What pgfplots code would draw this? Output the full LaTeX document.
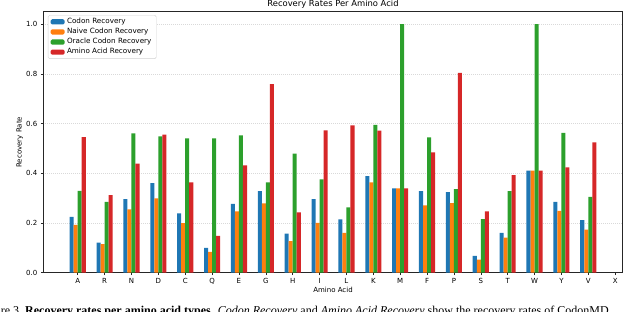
\documentclass[border=0pt]{standalone}
\usepackage{pgfplots}
\pgfplotsset{compat=1.18}
\usepackage{fontspec}
\setmainfont{DejaVu Sans}
\newfontfamily\capfont{Liberation Serif}
\definecolor{cA}{HTML}{1F77B4}
\definecolor{cB}{HTML}{FF7F0E}
\definecolor{cC}{HTML}{2CA02C}
\definecolor{cD}{HTML}{D62728}

\pgfplotstableread{
x codon naive oracle amino
0  0.225 0.192 0.329 0.545
1  0.121 0.115 0.285 0.312
2  0.296 0.255 0.561 0.439
3  0.360 0.299 0.548 0.555
4  0.239 0.199 0.540 0.363
5  0.100 0.084 0.540 0.148
6  0.277 0.247 0.552 0.432
7  0.328 0.279 0.363 0.759
8  0.157 0.127 0.479 0.243
9  0.296 0.200 0.375 0.573
10 0.215 0.160 0.263 0.593
11 0.389 0.363 0.595 0.572
12 0.339 0.339 1.000 0.339
13 0.328 0.271 0.544 0.484
14 0.324 0.280 0.336 0.804
15 0.068 0.053 0.216 0.247
16 0.160 0.141 0.328 0.393
17 0.411 0.411 1.000 0.411
18 0.285 0.249 0.563 0.424
19 0.212 0.173 0.305 0.524
}\datatable

\begin{document}
\begin{tikzpicture}[x=1pt,y=1pt]
\begin{axis}[
  name=ax,
  at={(43.3pt,38.3pt)}, anchor=south west,
  scale only axis, width=579.4pt, height=261pt,
  xmin=-1.28, xmax=20.28, ymin=0, ymax=1.05,
  xtick={0,...,20},
  xticklabels={A,R,N,D,C,Q,E,G,H,I,L,K,M,F,P,S,T,W,Y,V,X},
  ytick={0,0.2,0.4,0.6,0.8,1.0},
  yticklabel style={/pgf/number format/.cd, fixed, fixed zerofill, precision=1},
  /pgf/number format/assume math mode=true,
  tick label style={font=\fontsize{7}{8}\selectfont},
  tick align=outside, major tick length=2.5pt,
  xtick pos=bottom, ytick pos=left,
  tick style={black!85, line width=0.6pt},
  axis line style={black!85, line width=0.6pt},
  ymajorgrids,
  grid style={gray!30, line width=0.5pt, dash pattern=on 1pt off 1pt},
  xlabel={Amino Acid},
  xlabel style={font=\fontsize{7}{8}\selectfont, at={(axis description cs:0.5,-0.0759)}, anchor=base},
  ylabel={Recovery Rate},
  ylabel style={font=\fontsize{7}{8}\selectfont, at={(axis description cs:-0.0376,0.5)}, anchor=base},
  legend style={at={(0.008,0.987)}, anchor=north west, draw=gray!35, rounded corners=1.5pt,
    fill=white, font=\fontsize{7.2}{8}\selectfont, inner xsep=2.5pt, inner ysep=1.5pt,
    nodes={inner xsep=2.4pt, inner ysep=1.6pt, text height=5.3pt, text depth=1.6pt}},
  legend cell align=left,
  legend image code/.code={\fill[#1] (0pt,-2.6pt) rectangle (14pt,2.6pt);},
]
\addplot[ybar, bar width=0.15, bar shift=-0.225, fill=cA, draw=none] table[x=x, y=codon] {\datatable};
\addlegendentry{Codon Recovery}
\addplot[ybar, bar width=0.15, bar shift=-0.075, fill=cB, draw=none] table[x=x, y=naive] {\datatable};
\addlegendentry{Naive Codon Recovery}
\addplot[ybar, bar width=0.15, bar shift=0.075, fill=cC, draw=none] table[x=x, y=oracle] {\datatable};
\addlegendentry{Oracle Codon Recovery}
\addplot[ybar, bar width=0.15, bar shift=0.225, fill=cD, draw=none] table[x=x, y=amino] {\datatable};
\addlegendentry{Amino Acid Recovery}
\end{axis}
\node[anchor=base, yshift=5pt, inner sep=0, font=\fontsize{8.4}{10}\selectfont] at (ax.north) {Recovery Rates Per Amino Acid};
\node[anchor=base west, inner sep=0, font=\capfont\fontsize{12}{14}\selectfont] at (25pt,-3.6pt)
  {\llap{Figure 3.\ }\textbf{Recovery rates per amino acid types.} \textit{Codon Recovery} and \textit{Amino Acid Recovery} show the recovery rates of CodonMD};
\pgfresetboundingbox
\path[use as bounding box] (0,0) rectangle (640pt,311pt);
\end{tikzpicture}
\end{document}
